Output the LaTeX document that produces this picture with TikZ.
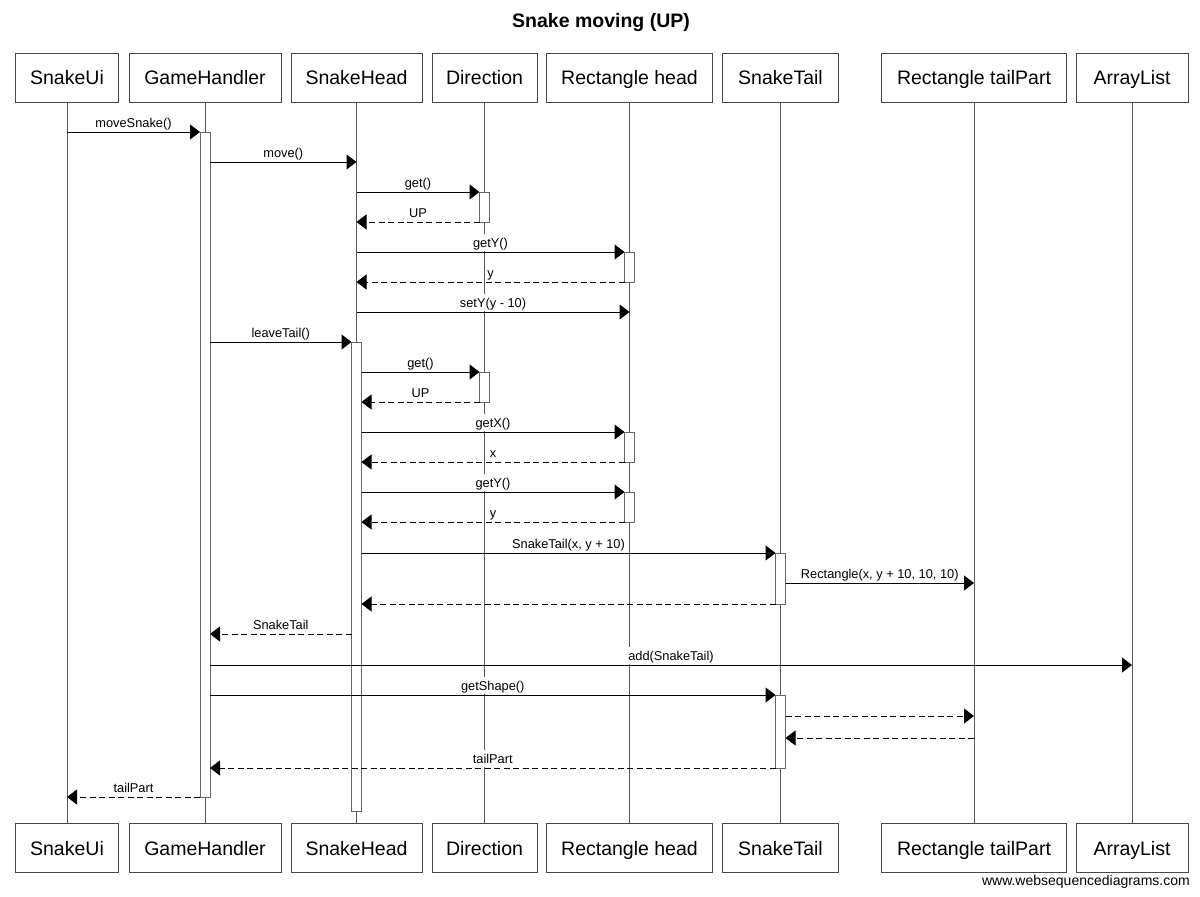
\documentclass[tikz,border=0pt]{standalone}
\usepackage{fontspec}
\setmainfont{Liberation Sans}
\usetikzlibrary{arrows.meta}

\newcommand\partfont{\fontsize{19.5}{22}\selectfont}
\newcommand\titlefont{\fontsize{19.5}{22}\selectfont\bfseries}
\newcommand\lblfont{\fontsize{12.8}{14}\selectfont}
\newcommand\sitefont{\fontsize{14}{16}\selectfont}

% synchronous call (solid) and return (dashed) between two lifelines at height #3
\newcommand\callmsg[4]{\draw[call] (#1 |- 0,#3) -- node[lbl]{#4} (#2 |- 0,#3);}
\newcommand\retmsg[4]{\draw[ret] (#1 |- 0,#3) -- node[lbl]{#4} (#2 |- 0,#3);}

\begin{document}
\begin{tikzpicture}[x=1pt, y=-1pt,
  part/.style={draw=black!72, line width=1pt, fill=white, minimum height=49pt,
               inner sep=0pt, text height=14pt, text depth=0pt, font=\partfont},
  life/.style={draw=black!65, line width=1pt},
  bar/.style={draw=black!60, line width=1pt, fill=white, minimum width=10pt,
              inner sep=0pt, outer sep=0pt, anchor=north},
  tip/.style={-{Triangle[length=10pt, width=15pt]}},
  call/.style={tip, draw=black, line width=1pt},
  ret/.style={tip, draw=black, line width=1pt, dash pattern=on 6pt off 3.5pt},
  lbl/.style={midway, anchor=south, fill=white, inner xsep=1pt, inner ysep=0pt,
              text height=13.5pt, text depth=3.5pt, yshift=0.7pt, font=\lblfont}]

\useasboundingbox (0,0) rectangle (1200,897);

% title
\node[font=\titlefont] (title) at (601,22.5) {Snake moving (UP)};

% participants, top and bottom
\foreach \id/\x/\w/\t in {ui/67/103.5/SnakeUi, gh/205/152/GameHandler,
    sh/356.5/131/SnakeHead, dir/484.5/105/Direction, rh/629.5/165.5/Rectangle head,
    st/780.5/116.5/SnakeTail, tp/974/185/Rectangle tailPart, al/1132/112/ArrayList}{
  \node[part, minimum width=\w pt] (\id T) at (\x,77.5) {\t};
  \node[part, minimum width=\w pt] (\id B) at (\x,848) {\t};
  \draw[life] (\id T.south) -- (\id B.north);
}

% activation bars
\node[bar, minimum height=665pt] (ghA) at (ghT |- 0,132) {};
\node[bar, minimum height=469pt] (shA) at (shT |- 0,342) {};
\node[bar, minimum height=30pt] (dirA1) at (dirT |- 0,192) {};
\node[bar, minimum height=30pt] (dirA2) at (dirT |- 0,372) {};
\node[bar, minimum height=30pt] (rhA1) at (rhT |- 0,252) {};
\node[bar, minimum height=30pt] (rhA2) at (rhT |- 0,432) {};
\node[bar, minimum height=30pt] (rhA3) at (rhT |- 0,492) {};
\node[bar, minimum height=51pt] (stA1) at (stT |- 0,553) {};
\node[bar, minimum height=73pt] (stA2) at (stT |- 0,695) {};

% messages
\callmsg{uiT}{ghA.west}{132}{moveSnake()}
\callmsg{ghA.east}{shT}{162}{move()}
\callmsg{shT}{dirA1.west}{192}{get()}
\retmsg{dirA1.west}{shT}{222}{UP}
\callmsg{shT}{rhA1.west}{252}{getY()}
\retmsg{rhA1.west}{shT}{282}{y}
\callmsg{shT}{rhT}{312}{setY(y - 10)}
\callmsg{ghA.east}{shA.west}{342}{leaveTail()}
\callmsg{shA.east}{dirA2.west}{372}{get()}
\retmsg{dirA2.west}{shA.east}{402}{UP}
\callmsg{shA.east}{rhA2.west}{432}{getX()}
\retmsg{rhA2.west}{shA.east}{462}{x}
\callmsg{shA.east}{rhA3.west}{492}{getY()}
\retmsg{rhA3.west}{shA.east}{522}{y}
\callmsg{shA.east}{stA1.west}{553}{SnakeTail(x, y + 10)}
\callmsg{stA1.east}{tpT}{583}{Rectangle(x, y + 10, 10, 10)}
\draw[ret] (stA1.west |- 0,604) -- (shA.east |- 0,604);
\retmsg{shA.west}{ghA.east}{634}{SnakeTail}
\callmsg{ghA.east}{alT}{665}{add(SnakeTail)}
\callmsg{ghA.east}{stA2.west}{695}{getShape()}
\draw[ret] (stA2.east |- 0,716) -- (tpT |- 0,716);
\draw[ret] (tpT |- 0,738) -- (stA2.east |- 0,738);
\retmsg{stA2.west}{ghA.east}{768}{tailPart}
\retmsg{ghA.west}{uiT}{797}{tailPart}

% footer
\node[anchor=east, font=\sitefont, inner sep=0pt] (site) at (1190,882) {www.websequencediagrams.com};
\end{tikzpicture}
\end{document}
